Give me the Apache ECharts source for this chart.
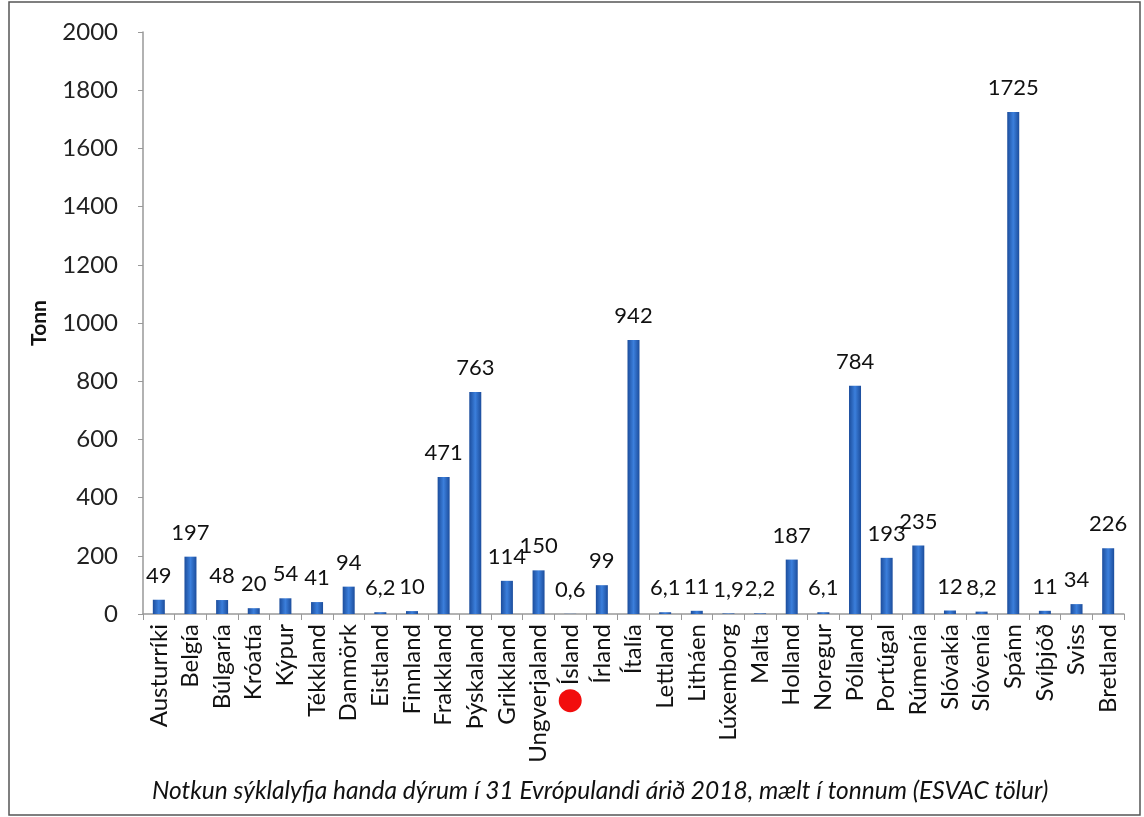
<!DOCTYPE html>
<html>
<head>
<meta charset="utf-8">
<script src="https://cdn.jsdelivr.net/npm/echarts@6/dist/echarts.min.js"></script>
<style>html,body{margin:0;padding:0;background:#fff}#c{width:1144px;height:817px}</style>
</head>
<body>
<div id="c"></div>
<script>
const categories = ['Austurríki','Belgía','Búlgaría','Króatía','Kýpur','Tékkland','Danmörk','Eistland','Finnland','Frakkland','Þýskaland','Grikkland','Ungverjaland','Ísland','Írland','Ítalía','Lettland','Litháen','Lúxemborg','Malta','Holland','Noregur','Pólland','Portúgal','Rúmenía','Slóvakía','Slóvenía','Spánn','Svíþjóð','Sviss','Bretland'];
const values = [49,197,48,20,54,41,94,6.2,10,471,763,114,150,0.6,99,942,6.1,11,1.9,2.2,187,6.1,784,193,235,12,8.2,1725,11,34,226];
const yTicks = [0,200,400,600,800,1000,1200,1400,1600,1800,2000];
const highlighted = 'Ísland';
const titleText = 'Notkun sýklalyfja handa dýrum í 31 Evrópulandi árið 2018, mælt í tonnum (ESVAC tölur)';
const yName = 'Tonn';

const FONT = 'Lato';
const chart = echarts.init(document.getElementById('c'), null, {renderer:'canvas'});
chart.setOption({
  animation: false,
  backgroundColor: '#fff',
  grid: {left: 143, right: 20, top: 32, bottom: 203, containLabel: false},
  title: {
    text: titleText, left: 147, top: 774,
    textStyle: {fontFamily: FONT, fontStyle: 'italic', fontWeight: 'normal', fontSize: 24.5, color: '#111'}
  },
  graphic: [{
    type: 'rect', shape: {x: 9, y: 2, width: 1131, height: 813},
    style: {fill: 'none', stroke: '#555', lineWidth: 1.5}, silent: true, z: -1
  }],
  xAxis: {
    type: 'category', data: categories,
    axisLine: {lineStyle: {color: '#999', width: 1.5}},
    axisTick: {show: true, interval: 0, length: 6, alignWithLabel: false, lineStyle: {color: '#999'}},
    axisLabel: {
      interval: 0, rotate: 90, margin: 10, color: '#111', fontFamily: FONT, fontSize: 24,
      formatter: function (v) { return v === highlighted ? '{dot|}{n|' + v + '}' : v; },
      rich: {
        dot: {width: 23, height: 23, borderRadius: 12, backgroundColor: '#f20d0d', padding: 0},
        n: {fontFamily: FONT, fontSize: 24, color: '#111', padding: [0, 0, 0, 4]}
      }
    }
  },
  yAxis: {
    type: 'value', min: yTicks[0], max: yTicks[yTicks.length - 1], interval: yTicks[1] - yTicks[0],
    name: yName, nameLocation: 'middle', nameGap: 93, nameRotate: 90,
    nameTextStyle: {fontFamily: FONT, fontWeight: 'bold', fontSize: 21, color: '#111'},
    axisLine: {show: true, lineStyle: {color: '#999', width: 1.5}},
    axisTick: {show: true, length: 5, lineStyle: {color: '#999'}},
    splitLine: {show: false},
    axisLabel: {margin: 25, color: '#222', fontFamily: FONT, fontSize: 24,
      formatter: function (v) { return String(v); }}
  },
  series: [{
    type: 'bar', data: values, barWidth: 12,
    itemStyle: {
      color: new echarts.graphic.LinearGradient(0, 0, 1, 0, [
        {offset: 0, color: '#1c4d9c'},
        {offset: 0.5, color: '#3b7fdc'},
        {offset: 1, color: '#1c4d9c'}
      ])
    },
    label: {
      show: true, position: 'top', distance: 13, color: '#111', fontFamily: FONT, fontSize: 22,
      formatter: function (p) { return String(p.value).replace('.', ','); }
    }
  }]
});
</script>
</body>
</html>
